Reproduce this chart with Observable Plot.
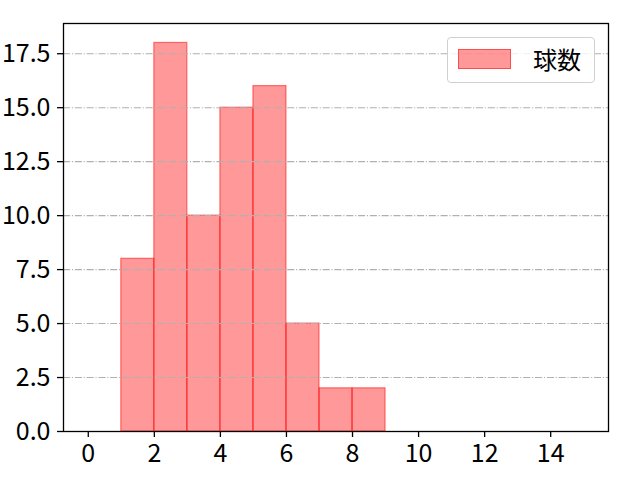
<!DOCTYPE html>
<html><head><meta charset="utf-8">
<script src="https://cdn.jsdelivr.net/npm/d3@7"></script>
<script src="https://cdn.jsdelivr.net/npm/@observablehq/plot@0.6"></script>
<style>
body{margin:0;background:#fff;}
#wrap{position:relative;width:640px;height:480px;font-family:"Noto Sans CJK JP",sans-serif;}
#legend{position:absolute;left:447px;top:37px;width:148px;height:46px;box-sizing:border-box;border:1px solid #d0d0d0;border-radius:4px;background:rgba(255,255,255,0.8);}
#patch{position:absolute;left:10px;top:11px;width:53px;height:20px;background:rgba(255,0,0,0.4);border:1px solid rgba(255,0,0,0.5);box-sizing:border-box;}
#ltext{position:absolute;left:85px;top:5px;font-family:"Noto Sans CJK JP",sans-serif;font-size:24px;line-height:32px;color:#000;}
</style></head>
<body><div id="wrap"><div id="legend"><div id="patch"></div><div id="ltext">球数</div></div></div>
<script>
const binStart = [1,2,3,4,5,6,7,8];
const binEnd   = [2,3,4,5,6,7,8,9];
const counts   = [8,18,10,15,16,5,2,2];
const xTicks = [0,2,4,6,8,10,12,14];
const yTicks = [0,2.5,5,7.5,10,12.5,15,17.5];
const label = "球数";

const data = binStart.map((s,i)=>({x1:s,x2:binEnd[i],y:counts[i]}));

const chart = Plot.plot({
  width:640, height:480,
  marginLeft:63, marginRight:32, marginTop:23, marginBottom:49,
  style:{fontFamily:"Noto Sans CJK JP, sans-serif", color:"#000", background:"#fff"},
  x:{domain:[-0.75,15.75]},
  y:{domain:[0,18.9]},
  marks:[
    Plot.rectY(data,{x1:"x1",x2:"x2",y:"y",fill:"red",fillOpacity:0.4,stroke:"red",strokeOpacity:0.5,strokeWidth:1.2,inset:0}),
    Plot.ruleY(yTicks,{stroke:"#b0b0b0",strokeWidth:1.1,strokeDasharray:"7.1,1.8,1.1,1.8"}),
    Plot.axisX({ticks:xTicks, tickSize:6, tickPadding:7, label:null, tickFormat:d=>String(d), fontSize:25, strokeWidth:1.3}),
    Plot.axisY({ticks:yTicks, tickSize:6, tickPadding:7, label:null, tickFormat:d=>d.toFixed(1), fontSize:25, strokeWidth:1.3}),
    Plot.frame({stroke:"#000",strokeWidth:1.3})
  ]
});
chart.style.position="absolute";chart.style.left="0";chart.style.top="0";
const wrap=document.getElementById("wrap");
wrap.insertBefore(chart, wrap.firstChild);
</script></body></html>
